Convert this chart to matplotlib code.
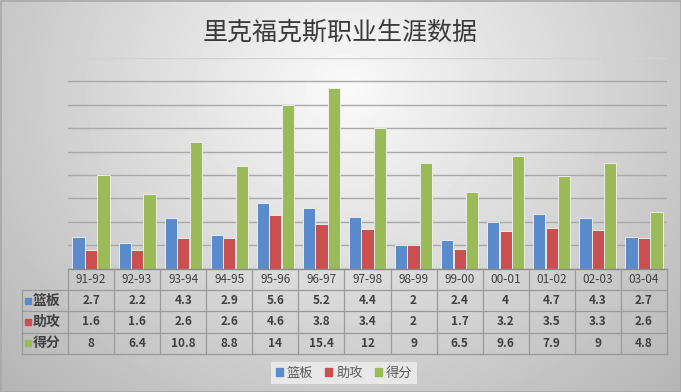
import matplotlib
matplotlib.use("Agg")
import matplotlib.pyplot as plt
import numpy as np
from matplotlib.patches import Patch, Rectangle

plt.rcParams['font.family'] = ['Noto Sans CJK SC', 'DejaVu Sans']

seasons = ['91-92', '92-93', '93-94', '94-95', '95-96', '96-97', '97-98',
           '98-99', '99-00', '00-01', '01-02', '02-03', '03-04']
rebounds = [2.7, 2.2, 4.3, 2.9, 5.6, 5.2, 4.4, 2, 2.4, 4, 4.7, 4.3, 2.7]
assists = [1.6, 1.6, 2.6, 2.6, 4.6, 3.8, 3.4, 2, 1.7, 3.2, 3.5, 3.3, 2.6]
points = [8, 6.4, 10.8, 8.8, 14, 15.4, 12, 9, 6.5, 9.6, 7.9, 9, 4.8]
labels = ['篮板', '助攻', '得分']
series = [rebounds, assists, points]
colors = ['#5B8BCB', '#C9504F', '#9BBB59']

W, H = 681, 392
fig = plt.figure(figsize=(W / 100, H / 100), dpi=100)

# background gradient
bg = fig.add_axes([0, 0, 1, 1], zorder=0)
yy, xx = np.mgrid[0:H, 0:W]
d = np.sqrt(((xx - 345) / 420.0) ** 2 + ((yy - 90) / 380.0) ** 2)
shade = np.clip(0.98 - 0.24 * d, 0, 1)
bg.imshow(shade, cmap='gray', vmin=0, vmax=1, aspect='auto',
          extent=[0, W, H, 0])
bg.add_patch(Rectangle((0.5, 0.5), W - 1, H - 1, fill=False,
                       edgecolor='#A8A8A8', lw=1.2))
bg.set_xlim(0, W)
bg.set_ylim(H, 0)
bg.axis('off')

# plot area
left, right, top, base = 68, 667, 58, 268.5
ax = fig.add_axes([left / W, (H - base) / H, (right - left) / W, (base - top) / H],
                  zorder=2)
ax.patch.set_alpha(0)
x = np.arange(len(seasons))
offs = [-0.27, 0.0, 0.27]
for vals, c, o, lab in zip(series, colors, offs, labels):
    ax.bar(x + o, vals, width=0.265, color=c, edgecolor='#F4F4F4', lw=0.6,
           label=lab, zorder=3)
ax.set_xlim(-0.5, len(seasons) - 0.5)
ax.set_ylim(0, 18)
ax.set_yticks(np.arange(0, 19, 2))
ax.yaxis.grid(True, color='#A9A9A9', lw=1.0)
ax.get_ygridlines()[-1].set_color('#D2D2D2')
ax.set_axisbelow(True)
ax.tick_params(left=False, bottom=False, labelleft=False, labelbottom=False)
for s in ax.spines.values():
    s.set_visible(False)

# data table
tb = fig.add_axes([0, 0, 1, 1], zorder=3)
tb.patch.set_alpha(0)
tb.set_xlim(0, W)
tb.set_ylim(H, 0)
tb.axis('off')
colw = (right - left) / len(seasons)
rows = [269, 290, 311, 332.5, 354]
hdr_l = 22
lc = '#9A9A9A'
tb.plot([left, right], [rows[0], rows[0]], color='#8A8A8A', lw=1.0)
for r in rows[1:]:
    tb.plot([hdr_l, right], [r, r], color=lc, lw=0.9)
tb.plot([hdr_l, hdr_l], [rows[1], rows[-1]], color=lc, lw=0.9)
for i in range(len(seasons) + 1):
    xe = left + i * colw
    tb.plot([xe, xe], [rows[0], rows[-1]], color=lc, lw=0.9)
for i, s in enumerate(seasons):
    tb.text(left + (i + 0.5) * colw, (rows[0] + rows[1]) / 2, s,
            ha='center', va='center', fontsize=8.5, color='#404040')
for j, (vals, c, lab) in enumerate(zip(series, colors, labels)):
    yc = (rows[j + 1] + rows[j + 2]) / 2
    tb.add_patch(Rectangle((25, yc - 3), 6, 6, color=c))
    tb.text(32.5, yc, lab, ha='left', va='center', fontsize=10,
            fontweight='bold', color='#404040')
    for i, v in enumerate(vals):
        tb.text(left + (i + 0.5) * colw, yc, f'{v:g}', ha='center',
                va='center', fontsize=8.5, fontweight='bold', color='#404040')

# title
fig.text(0.5, 1 - 33 / H, '里克福克斯职业生涯数据', ha='center', va='center',
         fontsize=18, color='#3A3A3A')

# legend
handles = [Patch(color=c, label=l) for c, l in zip(colors, labels)]
leg = fig.legend(handles=handles, loc='center', ncol=3,
                 bbox_to_anchor=(344 / W, 1 - 373 / H), frameon=True,
                 facecolor='#E8E8E8', edgecolor='none', framealpha=1,
                 fontsize=9.5, handlelength=0.55, handleheight=0.55,
                 handletextpad=0.3, columnspacing=0.9, borderpad=0.35,
                 fancybox=False)
for t in leg.get_texts():
    t.set_color('#595959')

fig.savefig('out.png', dpi=100)
